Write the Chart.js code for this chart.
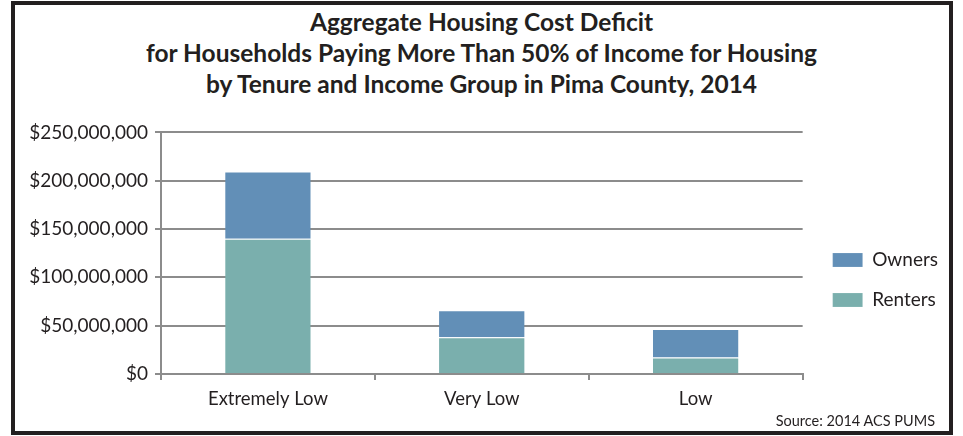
<!DOCTYPE html>
<html>
<head>
<meta charset="utf-8">
<title>Aggregate Housing Cost Deficit</title>
<script src="https://cdn.jsdelivr.net/npm/chart.js"></script>
<style>
  html, body { margin: 0; padding: 0; background: #fff; }
  body { width: 963px; height: 436px; position: relative; overflow: hidden; font-family: Lato, "Open Sans", sans-serif; color: #231f20; }
  #frame { position: absolute; left: 11px; top: 1px; width: 942px; height: 434px; box-sizing: border-box; border: 4px solid #231f20; }
  #title { position: absolute; left: 0; top: 6px; width: 963px; text-align: center; font-weight: bold; font-size: 24.5px; line-height: 31px; }
  #wrap { position: absolute; left: 0; top: 114px; width: 963px; height: 322px; }
  #source { position: absolute; right: 28px; top: 412px; font-size: 14.5px; }
</style>
</head>
<body>
<div id="title">Aggregate Housing Cost Deficit<br>for Households Paying More Than 50% of Income for Housing<br>by Tenure and Income Group in Pima County, 2014</div>
<div id="wrap"><canvas id="c1"></canvas></div>
<div id="source">Source: 2014 ACS PUMS</div>
<div id="frame"></div>
<script>
"use strict";

// income groups and deficit in dollars
const groups = ["Extremely Low", "Very Low", "Low"];
const renters = [140000000, 38000000, 17000000];
const owners = [69500000, 28000000, 29500000];
const yTicks = [0, 50000000, 100000000, 150000000, 200000000, 250000000];

const gridGray = "#8c8c8c";
const textColor = "#231f20";

// push the legend block a little right and down from where the layout puts it
const legendNudge = {
    id: "legendNudge",
    afterLayout(chart) {
        let lg = chart.legend;
        lg.left += 9;
        lg.right += 9;
        lg.top += 5;
        lg.bottom += 5;
    }
};

let c1 = document.querySelector("#c1");

let params =
{
    type: "bar",
    data: {
        labels: groups,
        datasets: [
            {
                label: "Renters",
                data: renters,
                backgroundColor: "#7aafad",
                borderColor: "rgba(255,255,255,0.6)",
                borderWidth: { top: 1, left: 0, right: 0, bottom: 0 },
                borderSkipped: false
            },
            {
                label: "Owners",
                data: owners,
                backgroundColor: "#628fb7",
                borderColor: "rgba(255,255,255,0.6)",
                borderWidth: { top: 1, left: 0, right: 0, bottom: 0 },
                borderSkipped: false
            }]
    },
    options: {
        responsive: true,
        maintainAspectRatio: false,
        animation: false,
        layout: { padding: { left: 0, right: 24, top: 0, bottom: 0 } },
        datasets: {
            bar: { barPercentage: 0.4, categoryPercentage: 1.0 }
        },
        plugins: {
            legend: {
                position: "right",
                reverse: true,
                labels: {
                    boxWidth: 30,
                    boxHeight: 14,
                    padding: 21,
                    color: textColor,
                    font: { family: "Lato", size: 19 }
                }
            },
            tooltip: { enabled: false }
        },
        scales: {
            x: {
                stacked: true,
                afterFit: s => { s.height = 62; },
                border: { color: gridGray, width: 2 },
                grid: { drawOnChartArea: false, drawTicks: true, tickLength: 6, color: gridGray, lineWidth: 2, offset: true },
                ticks: { color: textColor, padding: 8, font: { family: "Lato", size: 18.5 } }
            },
            y: {
                stacked: true,
                min: 0,
                max: 250000000,
                afterFit: s => { s.width = 161; },
                afterBuildTicks: s => { s.ticks = yTicks.map(v => ({ value: v })); },
                border: { color: gridGray, width: 2 },
                grid: { color: gridGray, lineWidth: 2, tickLength: 6 },
                ticks: {
                    color: textColor,
                    padding: 7,
                    font: { family: "Lato", size: 19 },
                    callback: v => "$" + Number(v).toLocaleString("en-US")
                }
            }
        }
    },
    plugins: [legendNudge]
};

let chart1 = new Chart(c1, params);
</script>
</body>
</html>
